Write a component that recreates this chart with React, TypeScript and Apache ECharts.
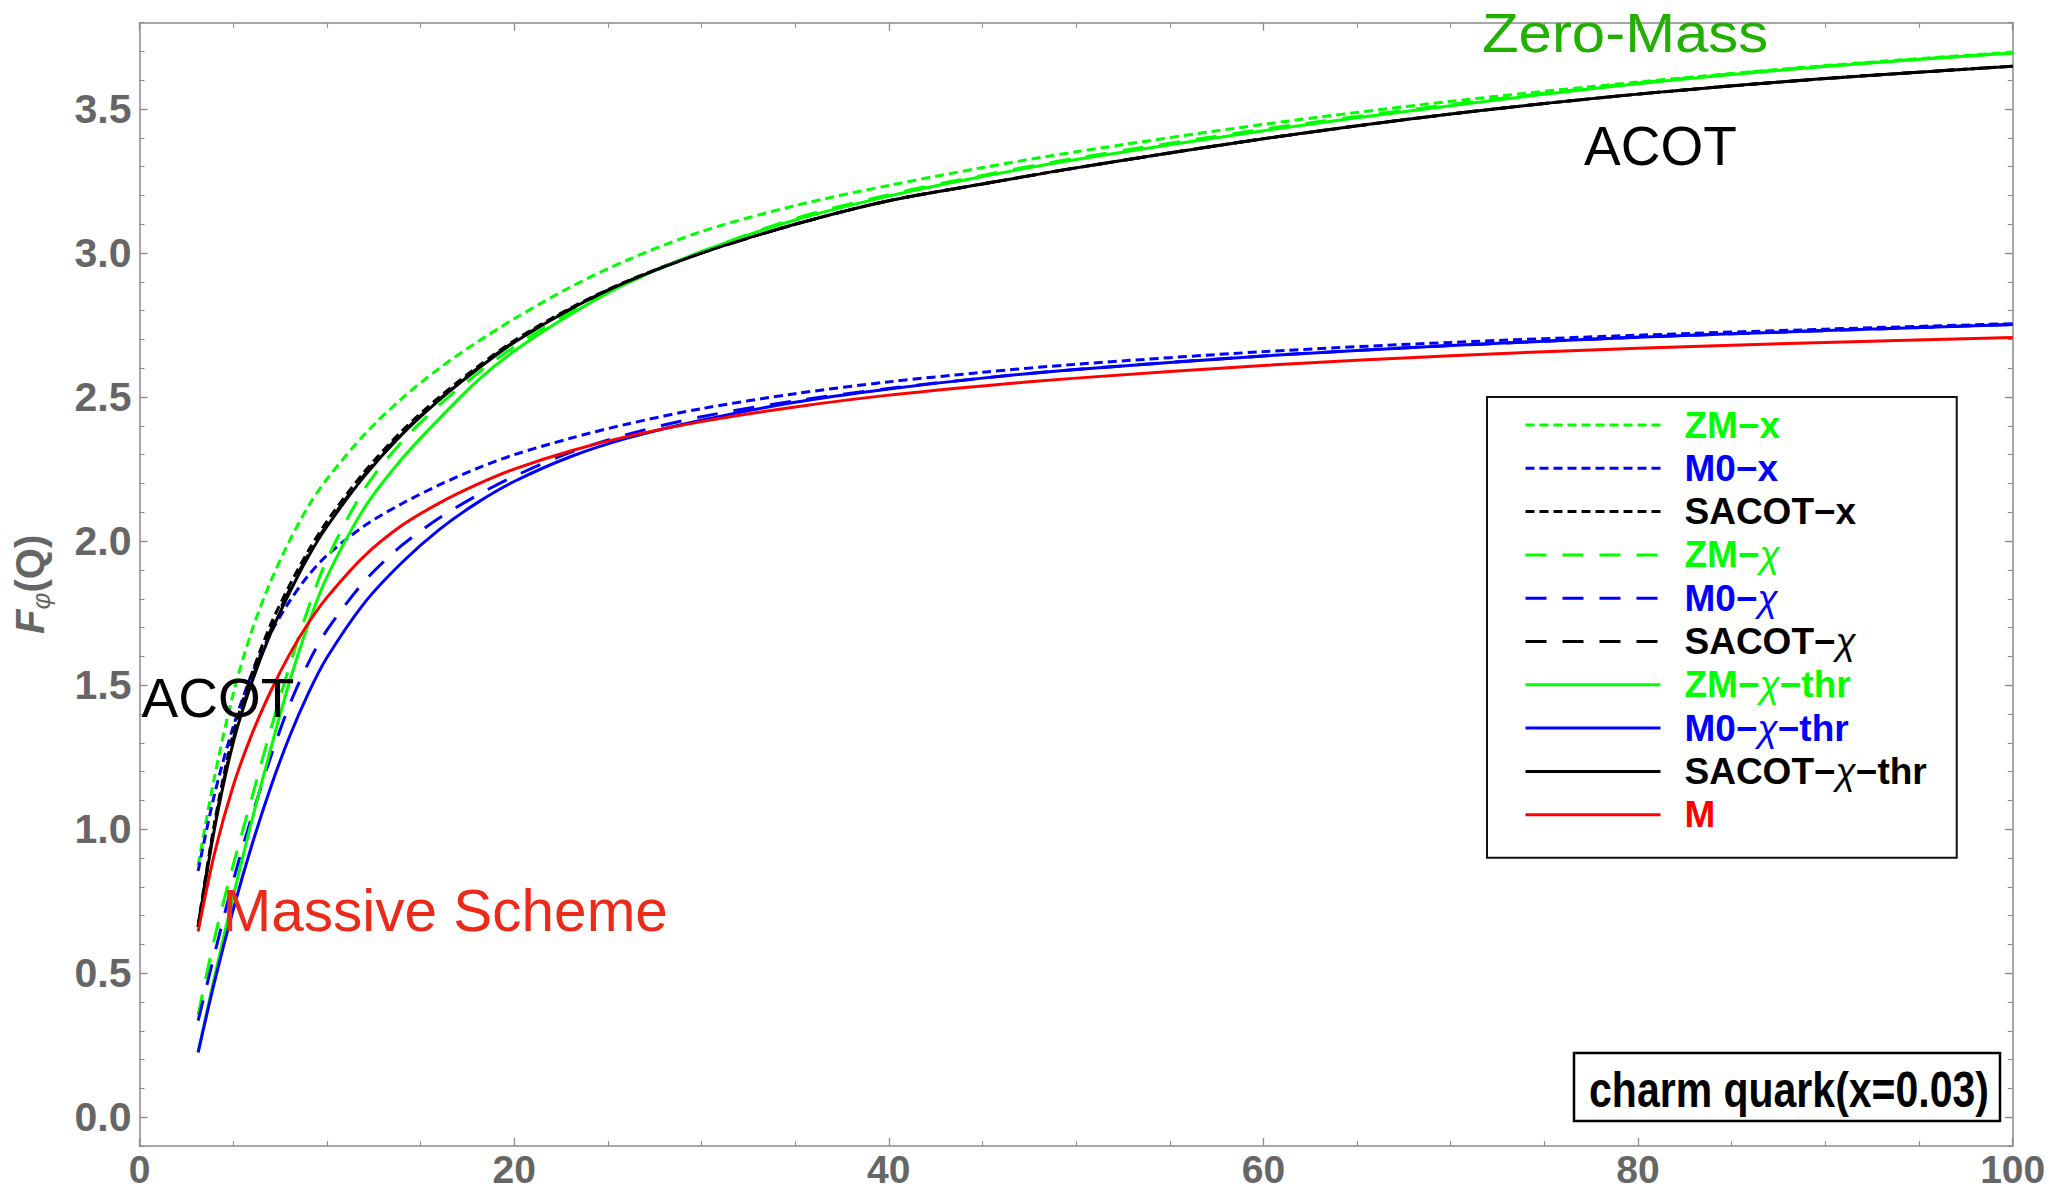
import React, { useEffect, useRef } from "react";
import * as echarts from "echarts";

// ---------- data ----------
const Q_VALUES = [3.13, 4, 5, 6, 7, 8, 9, 10, 12, 14, 16, 18, 20, 23, 26, 30, 35, 40, 45, 50, 60, 70, 80, 90, 100];

const ZM_X = [0.875, 1.18, 1.47, 1.69, 1.86, 2.0, 2.12, 2.215, 2.37, 2.495, 2.6, 2.69, 2.772, 2.882, 2.975, 3.075, 3.165, 3.235, 3.297, 3.352, 3.447, 3.527, 3.594, 3.651, 3.698];
const M0_X = [0.855, 1.12, 1.355, 1.54, 1.68, 1.79, 1.88, 1.95, 2.053, 2.13, 2.195, 2.252, 2.3, 2.357, 2.406, 2.46, 2.512, 2.553, 2.586, 2.614, 2.658, 2.69, 2.715, 2.736, 2.755];
const SACOT_X = [0.665, 1.02, 1.33, 1.54, 1.71, 1.845, 1.965, 2.068, 2.24, 2.382, 2.5, 2.603, 2.696, 2.809, 2.902, 3.001, 3.1, 3.182, 3.24, 3.296, 3.397, 3.483, 3.552, 3.606, 3.649];
const ZM_CHI = [0.355, 0.62, 0.875, 1.11, 1.345, 1.565, 1.765, 1.935, 2.18, 2.345, 2.472, 2.58, 2.675, 2.795, 2.895, 3.005, 3.12, 3.203, 3.27, 3.33, 3.43, 3.516, 3.591, 3.65, 3.696];
const M0_CHI = [0.335, 0.565, 0.82, 1.045, 1.25, 1.43, 1.575, 1.69, 1.86, 1.985, 2.08, 2.158, 2.225, 2.308, 2.37, 2.432, 2.487, 2.53, 2.566, 2.596, 2.643, 2.679, 2.708, 2.731, 2.752];
const SACOT_CHI = [0.66, 1.01, 1.31, 1.52, 1.69, 1.83, 1.952, 2.056, 2.23, 2.374, 2.492, 2.598, 2.692, 2.806, 2.9, 3.0, 3.1, 3.182, 3.24, 3.296, 3.397, 3.483, 3.552, 3.606, 3.649];
const ZM_CHI_THR = [0.225, 0.486, 0.766, 1.031, 1.278, 1.51, 1.71, 1.875, 2.115, 2.285, 2.425, 2.555, 2.66, 2.787, 2.895, 3.005, 3.115, 3.198, 3.266, 3.325, 3.425, 3.512, 3.588, 3.648, 3.695];
const M0_CHI_THR = [0.225, 0.469, 0.72, 0.945, 1.145, 1.32, 1.47, 1.595, 1.785, 1.925, 2.04, 2.132, 2.207, 2.293, 2.357, 2.42, 2.482, 2.528, 2.566, 2.596, 2.643, 2.679, 2.708, 2.731, 2.752];
const SACOT_CHI_THR = [0.66, 1.0, 1.3, 1.51, 1.68, 1.82, 1.945, 2.05, 2.225, 2.37, 2.49, 2.595, 2.69, 2.805, 2.9, 3.0, 3.1, 3.182, 3.24, 3.296, 3.397, 3.483, 3.552, 3.606, 3.649];
const M_MASSIVE = [0.645, 0.915, 1.15, 1.33, 1.478, 1.606, 1.714, 1.804, 1.948, 2.054, 2.132, 2.196, 2.25, 2.313, 2.363, 2.415, 2.466, 2.507, 2.539, 2.566, 2.61, 2.644, 2.67, 2.69, 2.707];

const SERIES_NAMES = ["ZM−x", "M0−x", "SACOT−x", "ZM−χ", "M0−χ", "SACOT−χ", "ZM−χ−thr", "M0−χ−thr", "SACOT−χ−thr", "M"];
const Y_MAJOR_TICKS = [0, 0.5, 1, 1.5, 2, 2.5, 3, 3.5];
const X_MIN = 0;
const X_MAX = 100;
const Y_MIN = -0.1;
const Y_MAX = 3.8;

// ---------- styles ----------
const FONT = "'Liberation Sans', Arial, Helvetica, sans-serif";
const GREEN = "#00ff00";
const BLUE = "#0000ff";
const BLACK = "#000000";
const RED = "#ff0000";
const FRAME = "#8a8a8a";
const TICK_LABEL = "#666666";
const DOTTED = [9, 5];
const DASHED = [21, 16];

const SERIES_VALUES = [ZM_X, M0_X, SACOT_X, ZM_CHI, M0_CHI, SACOT_CHI, ZM_CHI_THR, M0_CHI_THR, SACOT_CHI_THR, M_MASSIVE];
const SERIES_COLORS = [GREEN, BLUE, BLACK, GREEN, BLUE, BLACK, GREEN, BLUE, BLACK, RED];
const SERIES_DASH: any[] = [DOTTED, DOTTED, DOTTED, DASHED, DASHED, DASHED, "solid", "solid", "solid", "solid"];

const GRID = { left: 139.5, top: 22.7, width: 1873.2, height: 1123.3 };

function legendRich(color: string) {
  return {
    b: { color, fontFamily: FONT, fontWeight: "bold", fontSize: 37, lineHeight: 38 },
    c: { color, fontFamily: FONT, fontStyle: "italic", fontWeight: "normal", fontSize: 37, lineHeight: 38 },
  };
}

function legendFormatter(name: string) {
  return name
    .split("χ")
    .map((part) => (part ? `{b|${part}}` : ""))
    .join("{c|χ}");
}

function buildOption(): any {
  const series = SERIES_NAMES.map((name, i) => ({
    type: "line",
    name,
    data: Q_VALUES.map((q, j) => [q, SERIES_VALUES[i][j]]),
    showSymbol: false,
    symbol: "none",
    smooth: 0.3,
    xAxisIndex: 0,
    yAxisIndex: 0,
    lineStyle: { color: SERIES_COLORS[i], width: 3, type: SERIES_DASH[i], cap: "butt" },
    itemStyle: { color: SERIES_COLORS[i] },
    emphasis: { disabled: true },
    silent: true,
  }));

  const xCommon = {
    type: "value",
    min: X_MIN,
    max: X_MAX,
    interval: 20,
    axisLine: { show: true, onZero: false, lineStyle: { color: FRAME, width: 1.5 } },
    axisTick: { show: true, inside: true, length: 8, lineStyle: { color: FRAME, width: 1.3 } },
    minorTick: { show: true, splitNumber: 4, length: 5, lineStyle: { color: FRAME, width: 1.1 } },
    splitLine: { show: false },
    minorSplitLine: { show: false },
  };

  const yMajorCommon = {
    type: "value",
    min: Y_MIN,
    max: Y_MAX,
    axisLine: { show: true, onZero: false, lineStyle: { color: FRAME, width: 1.5 } },
    axisTick: { show: true, inside: true, length: 8, customValues: Y_MAJOR_TICKS, lineStyle: { color: FRAME, width: 1.3 } },
    splitLine: { show: false },
  };

  const yMinorCommon = {
    type: "value",
    min: Y_MIN,
    max: Y_MAX,
    interval: 0.1,
    axisLine: { show: false, onZero: false },
    axisTick: { show: true, inside: true, length: 5, lineStyle: { color: FRAME, width: 1.1 } },
    axisLabel: { show: false },
    splitLine: { show: false },
  };

  return {
    animation: false,
    backgroundColor: "#ffffff",
    textStyle: { fontFamily: FONT },
    grid: { ...GRID, containLabel: false, outerBoundsMode: "none" },
    xAxis: [
      {
        ...xCommon,
        position: "bottom",
        axisLabel: {
          show: true,
          margin: 4,
          color: TICK_LABEL,
          fontFamily: FONT,
          fontWeight: "bold",
          fontSize: 39,
          lineHeight: 38,
          formatter: (v: number) => String(v),
        },
      },
      { ...xCommon, position: "top", axisLabel: { show: false } },
    ],
    yAxis: [
      {
        ...yMajorCommon,
        position: "left",
        axisLabel: {
          show: true,
          customValues: Y_MAJOR_TICKS,
          margin: 8,
          color: TICK_LABEL,
          fontFamily: FONT,
          fontWeight: "bold",
          fontSize: 41,
          formatter: (v: number) => v.toFixed(1),
        },
        name: "{i|F}{s|φ}{n|(Q)}",
        nameLocation: "middle",
        nameRotate: 90,
        nameGap: 86,
        nameMoveOverlap: false,
        nameTextStyle: {
          color: TICK_LABEL,
          rich: {
            i: { color: TICK_LABEL, fontFamily: FONT, fontStyle: "italic", fontWeight: "bold", fontSize: 40, lineHeight: 44, verticalAlign: "top" },
            s: { color: TICK_LABEL, fontFamily: FONT, fontStyle: "italic", fontSize: 26, lineHeight: 16, verticalAlign: "bottom" },
            n: { color: TICK_LABEL, fontFamily: FONT, fontWeight: "bold", fontSize: 40, lineHeight: 44, verticalAlign: "top" },
          },
        },
      },
      { ...yMajorCommon, position: "right", axisLabel: { show: false } },
      { ...yMinorCommon, position: "left" },
      { ...yMinorCommon, position: "right" },
    ],
    legend: {
      show: true,
      orient: "vertical",
      left: 1487,
      top: 397,
      selectedMode: false,
      padding: [9, 30, 24, 37],
      itemWidth: 135,
      itemHeight: 14,
      itemGap: 5.3,
      borderColor: "#111111",
      borderWidth: 2,
      borderRadius: 0,
      backgroundColor: "#ffffff",
      itemStyle: { opacity: 0 },
      lineStyle: { width: "inherit" },
      textStyle: { padding: [0, 0, 0, 19], fontFamily: FONT, fontWeight: "bold", fontSize: 37, lineHeight: 38 },
      formatter: legendFormatter,
      data: SERIES_NAMES.map((name, i) => ({
        name,
        textStyle: { color: SERIES_COLORS[i], rich: legendRich(SERIES_COLORS[i]) },
      })),
    },
    graphic: [
      {
        type: "text",
        x: 1482,
        y: 32.3,
        z: 100,
        silent: true,
        scaleX: 1.07,
        style: { text: "Zero-Mass", fill: "#22b000", fontFamily: FONT, fontSize: 56, align: "left", verticalAlign: "middle" },
      },
      {
        type: "text",
        x: 1584,
        y: 146,
        z: 100,
        silent: true,
        style: { text: "ACOT", fill: "#000000", fontFamily: FONT, fontSize: 55, align: "left", verticalAlign: "middle" },
      },
      {
        type: "text",
        x: 141.5,
        y: 698.2,
        z: 100,
        silent: true,
        style: { text: "ACOT", fill: "#000000", fontFamily: FONT, fontSize: 55, align: "left", verticalAlign: "middle" },
      },
      {
        type: "text",
        x: 222.5,
        y: 910,
        z: 100,
        silent: true,
        style: { text: "Massive Scheme", fill: "#ec2a1a", fontFamily: FONT, fontSize: 58.5, align: "left", verticalAlign: "middle" },
      },
      {
        type: "rect",
        z: 100,
        silent: true,
        shape: { x: 1574, y: 1053, width: 426, height: 68 },
        style: { fill: "#ffffff", stroke: "#000000", lineWidth: 2.5 },
      },
      {
        type: "text",
        x: 1789,
        y: 1090,
        z: 101,
        silent: true,
        scaleX: 0.82,
        style: { text: "charm quark(x=0.03)", fill: "#000000", fontFamily: FONT, fontWeight: "bold", fontSize: 50, align: "center", verticalAlign: "middle" },
      },
    ],
    series,
  };
}

export default function App() {
  const ref = useRef<HTMLDivElement>(null);
  useEffect(() => {
    if (!ref.current) return;
    const chart = echarts.init(ref.current, null, { renderer: "svg" });
    chart.setOption(buildOption());
    return () => {
      chart.dispose();
    };
  }, []);
  return (
    <div
      ref={ref}
      style={{ position: "absolute", left: 0, top: 0, width: 2049, height: 1192, background: "#ffffff" }}
    />
  );
}
